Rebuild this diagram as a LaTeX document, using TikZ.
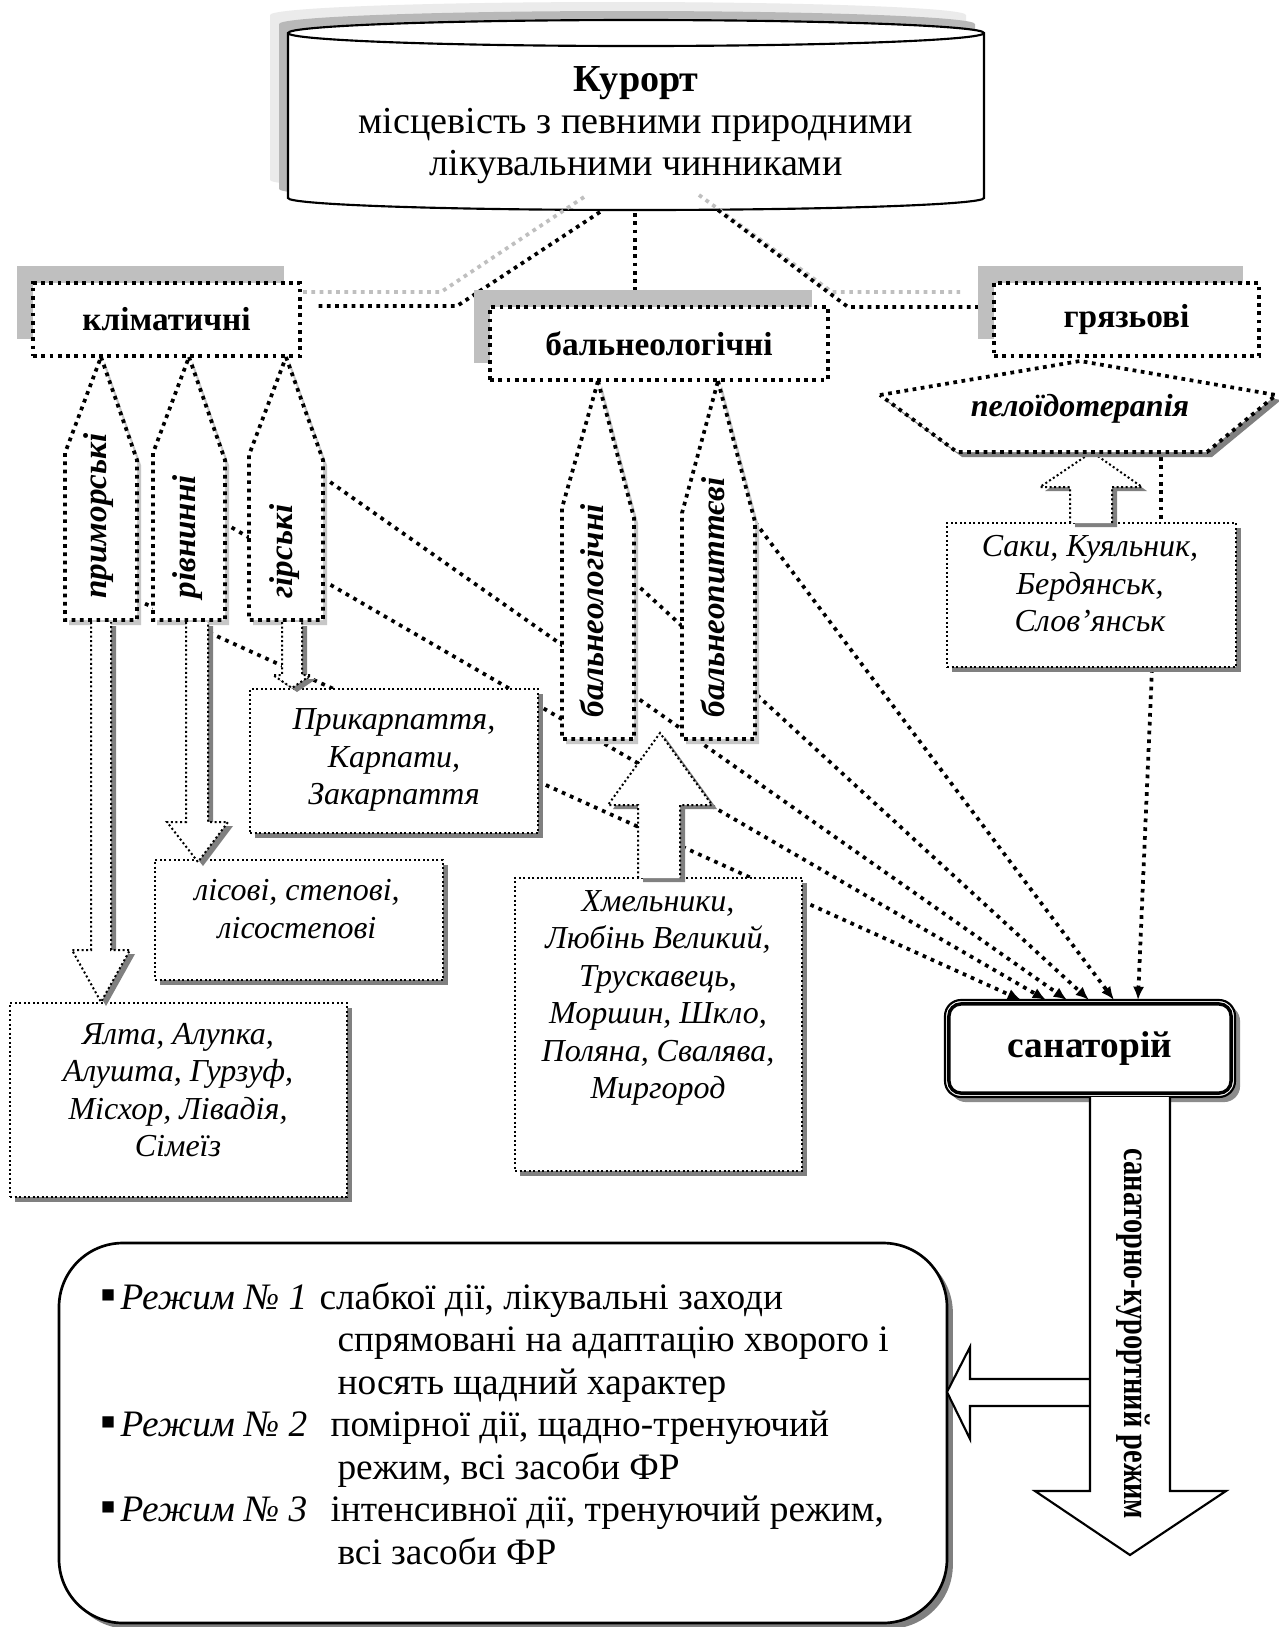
\documentclass[tikz,border=0pt]{standalone}
\usepackage{fontspec}
\usepackage{graphicx}
\setmainfont{Liberation Serif}
\usetikzlibrary{arrows.meta,shadows}
\def\PX{0.375pt}
\newcommand\pentpath[7]{(#1,#2) -- (#4,#6) -- (#4,#7) -- (#3,#7) -- (#3,#5) -- cycle}
\newcommand\cylpath{(288,33) -- (288,198) arc[start angle=180, end angle=0, x radius=348, y radius=12] -- (984,33) arc[start angle=0, end angle=-180, x radius=348, y radius=13] -- cycle}
\begin{document}
\begin{tikzpicture}[x=0.375pt, y=-0.375pt,
  thickdot/.style={line width=1.4pt, dash pattern=on 1.4pt off 1.7pt},
  thindot/.style={line width=0.75pt, dash pattern=on 0.75pt off 0.95pt},
  conv/.style={line width=1.4pt, dash pattern=on 1.4pt off 1.9pt, -{Latex[length=5pt,width=4.2pt]}},
  catbox/.style={draw, thickdot, fill=white, inner sep=0pt, font=\fontsize{12.5}{14}\selectfont\bfseries,
     general shadow={draw=none, fill=black!25, shadow xshift=-6pt, shadow yshift=6.5pt}},
  placebox/.style={draw, thindot, fill=white, inner sep=0pt,
     general shadow={draw=none, fill=black!50, shadow xshift=1.9pt, shadow yshift=-1.9pt}},
  placetext/.style={align=center, inner sep=0pt, font=\fontsize{12}{14.06}\selectfont\itshape},
  penttext/.style={rotate=90, anchor=mid west, inner sep=0pt, font=\fontsize{12.4}{14}\selectfont\bfseries\itshape},
  pentshape/.style={draw, thickdot, fill=white},
  pentshadow/.style={fill=black!22},
  hollow/.style={draw, thindot, fill=white},
  hollowshadow/.style={fill=black!50},
  btext/.style={anchor=base west, inner sep=0pt, font=\fontsize{14}{15}\selectfont}
]
\fill[white] (0,0) rectangle (1279,1627);
\useasboundingbox (0,0) rectangle (1279,1627);

% ---------- cylinder
\fill[black!8, shift={(-18,-18)}] \cylpath;
\fill[black!28, shift={(-9,-9)}] \cylpath;
\filldraw[fill=white, line width=0.8pt] \cylpath;
\draw[line width=0.8pt] (288,33) arc[start angle=180, end angle=0, x radius=348, y radius=13];
\node[align=center, inner sep=0pt, font=\fontsize{14.3}{15.75}\selectfont] (kur) at (636,125)
  {\textbf{Курорт}\\місцевість з певними природними\\лікувальними чинниками};

% ---------- connectors from cylinder
\coordinate (gL1) at (584,197); \coordinate (gL2) at (441,292); \coordinate (gL3) at (302,292);
\coordinate (gR1) at (699,195); \coordinate (gR2) at (832,292); \coordinate (gR3) at (960,292);
\coordinate (cL1) at (600,212); \coordinate (cL2) at (457,306); \coordinate (cL3) at (314,306);
\coordinate (cM1) at (635,213); \coordinate (cM2) at (635,305);
\coordinate (cR1) at (718,210); \coordinate (cR2) at (848,307); \coordinate (cR3) at (979,307);
\draw[thickdot, black!25] (gL1) -- (gL2) -- (gL3);
\draw[thickdot, black!25] (gR1) -- (gR2) -- (gR3);
\draw[thickdot] (cL1) -- (cL2) -- (cL3);
\draw[thickdot] (cM1) -- (cM2);
\draw[thickdot] (cR1) -- (cR2) -- (cR3);

% ---------- category boxes
\node[catbox, minimum width=267*\PX, minimum height=73*\PX] (klim) at (166.5,319.5) {кліматичні};
\node[catbox, minimum width=338*\PX, minimum height=73*\PX] (balcat) at (659,343.5) {бальнеологічні};
\node[catbox, minimum width=265*\PX, minimum height=73*\PX] (grj) at (1126.5,319.5) {грязьові};

% ---------- converging connectors to sanatorium
\coordinate (sA) at (137,600); \coordinate (tA) at (1021,1000);
\coordinate (sB) at (224,523); \coordinate (tB) at (1046,1000);
\coordinate (sC) at (323,477); \coordinate (tC) at (1067,1000);
\coordinate (sE) at (634,582); \coordinate (tE) at (1089,1000);
\coordinate (sF) at (755,522); \coordinate (tF) at (1114,1000);
\coordinate (sG) at (1152,669); \coordinate (tG) at (1138,1000);
\draw[conv] (sA) -- (tA);
\draw[conv] (sB) -- (tB);
\draw[conv] (sC) -- (tC);
\draw[conv] (sE) -- (tE);
\draw[conv] (sF) -- (tF);
\draw[conv] (sG) -- (tG);
\coordinate (hx1) at (1161,457); \coordinate (hx2) at (1161,521);
\draw[thickdot] (hx1) -- (hx2);

% ---------- pentagons
\foreach \ax/\ay/\lx/\rx/\ly/\ry/\by in {101/357/65/137/453/460/620, 189/357/153/225/453/460/620, 286/357/249/323/455/460/620, 598/381/562/634/508/518/739, 718/381/682/755/513/522/739}{
  \fill[pentshadow, shift={(4,5)}] \pentpath{\ax}{\ay}{\lx}{\rx}{\ly}{\ry}{\by};
  \draw[pentshape] \pentpath{\ax}{\ay}{\lx}{\rx}{\ly}{\ry}{\by};
}
\node[penttext] (tprim) at (100,599) {приморські};
\node[penttext] (triv) at (189,599) {рівнинні};
\node[penttext] (tgir) at (286,599) {гірські};
\node[penttext] (tbln) at (597,718) {бальнеологічні};
\node[penttext] (tblp) at (718,718) {бальнеопиттєві};

% ---------- place boxes
\node[placebox, minimum width=288*\PX, minimum height=144*\PX] (pk) at (394,761) {};
\node[placetext] (pkt) at (394,760) {Прикарпаття,\\Карпати,\\Закарпаття};
\node[placebox, minimum width=288*\PX, minimum height=120*\PX] (lis) at (299,920) {};
\node[placetext] (list) at (297,909) {лісові, степові,\\лісостепові};
\node[placebox, minimum width=337*\PX, minimum height=194*\PX] (yal) at (178.5,1100) {};
\node[placetext] (yalt) at (178,1090) {Ялта, Алупка,\\Алушта, Гурзуф,\\Місхор, Лівадія,\\Сімеїз};
\node[placebox, minimum width=287*\PX, minimum height=293*\PX] (khm) at (658.5,1024.5) {};
\node[placetext] (khmt) at (658,998) {Хмельники,\\Любінь Великий,\\Трускавець,\\Моршин, Шкло,\\Поляна, Свалява,\\Миргород};
\node[placebox, minimum width=289*\PX, minimum height=144*\PX] (sak) at (1091.5,595) {};
\node[placetext] (sakt) at (1090,584) {Саки, Куяльник,\\Бердянськ,\\Слов’янськ};

% ---------- hollow arrows
\fill[hollowshadow, shift={(5,4)}] (91,622) -- (91,950) -- (72,950) -- (101,1002) -- (130,950) -- (111,950) -- (111,622);
\path[hollow] (91,622) -- (91,950) -- (72,950) -- (101,1002) -- (130,950) -- (111,950) -- (111,622);
\fill[hollowshadow, shift={(5,4)}] (186,622) -- (186,822) -- (167,822) -- (198,862) -- (228,822) -- (208,822) -- (208,622);
\path[hollow] (186,622) -- (186,822) -- (167,822) -- (198,862) -- (228,822) -- (208,822) -- (208,622);
\fill[hollowshadow, shift={(5,4)}] (282,622) -- (282,675) -- (273,675) -- (292,688) -- (311,675) -- (302,675) -- (302,622);
\path[hollow] (282,622) -- (282,675) -- (273,675) -- (292,688) -- (311,675) -- (302,675) -- (302,622);
\fill[hollowshadow, shift={(5,4)}] (638,878) -- (638,805) -- (608,805) -- (660,733) -- (712,805) -- (680,805) -- (680,878);
\path[hollow] (638,878) -- (638,805) -- (608,805) -- (660,733) -- (712,805) -- (680,805) -- (680,878);
\fill[hollowshadow, shift={(5,4)}] (1070,523) -- (1070,487) -- (1040,487) -- (1092,452) -- (1142,487) -- (1112,487) -- (1112,523);
\path[hollow] (1070,523) -- (1070,487) -- (1040,487) -- (1092,452) -- (1142,487) -- (1112,487) -- (1112,523);

% ---------- peloid hexagon
\fill[black!50, shift={(5,5)}] (880,395) -- (1080,361) -- (1276,395) -- (1207,452) -- (957,452) -- cycle;
\draw[thickdot, fill=white] (880,395) -- (1080,361) -- (1276,395) -- (1207,452) -- (957,452) -- cycle;
\node[font=\fontsize{12}{14}\selectfont\bfseries\itshape, anchor=mid, inner sep=0pt] (pel) at (1080,410) {пелоїдотерапія};

% ---------- sanatorium
\node[draw, line width=0.8pt, fill=white, rounded corners=6pt, minimum width=290*\PX, minimum height=97*\PX,
  general shadow={draw=none, fill=black!45, shadow xshift=1.9pt, shadow yshift=-1.9pt},
  font=\fontsize{14}{15}\selectfont\bfseries] (san) at (1090,1048.5) {санаторій};
\draw[line width=1.3pt, rounded corners=4.5pt] ([shift={(5,5)}]san.north west) rectangle ([shift={(-5,-5)}]san.south east);

% ---------- regime box
\node[draw, line width=1pt, fill=white, rounded corners=24pt, minimum width=888*\PX, minimum height=380*\PX,
  general shadow={draw=none, fill=black!50, shadow xshift=2.2pt, shadow yshift=-2.2pt}] (reg) at (503,1433) {};

% ---------- arrows of regime
\path[draw, line width=0.8pt, fill=white] (1090,1379) -- (970,1379) -- (970,1347) -- (947,1392) -- (970,1439) -- (970,1406) -- (1090,1406);
\path[draw, line width=0.8pt, fill=white] (1090,1097) -- (1090,1491) -- (1035,1491) -- (1130,1555) -- (1226,1491) -- (1170,1491) -- (1170,1097);
\node[rotate=-90, anchor=mid, inner sep=0pt, font=\fontsize{14}{15}\selectfont\bfseries] (srk) at (1131,1334) {\scalebox{0.76}[1]{санаторно-курортний режим}};

% ---------- regime texts
\node[btext, font=\fontsize{17}{15}\selectfont] (b1a) at (100,1309) {▪};
\node[btext] (b1b) at (120,1309) {\textit{Режим № 1}};
\node[btext] (b1c) at (319,1309) {слабкої дії, лікувальні заходи};
\node[btext] (b2) at (337,1351.5) {спрямовані на адаптацію хворого і};
\node[btext] (b3) at (337,1394) {носять щадний характер};
\node[btext, font=\fontsize{17}{15}\selectfont] (b4a) at (100,1436.5) {▪};
\node[btext] (b4b) at (120,1436.5) {\textit{Режим № 2}};
\node[btext] (b4c) at (330,1436.5) {помірної дії, щадно-тренуючий};
\node[btext] (b5) at (337,1479) {режим, всі засоби ФР};
\node[btext, font=\fontsize{17}{15}\selectfont] (b6a) at (100,1521.5) {▪};
\node[btext] (b6b) at (120,1521.5) {\textit{Режим № 3}};
\node[btext] (b6c) at (330,1521.5) {інтенсивної дії, тренуючий режим,};
\node[btext] (b7) at (337,1564) {всі засоби ФР};
\end{tikzpicture}
\end{document}
